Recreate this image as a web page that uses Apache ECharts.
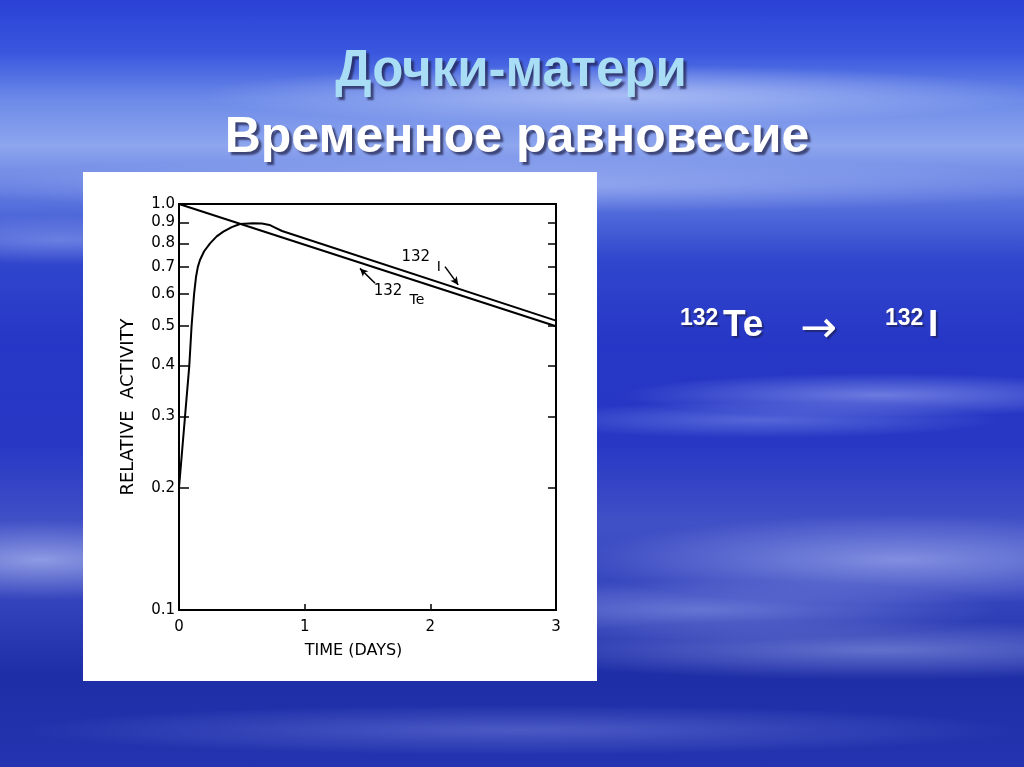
<!DOCTYPE html>
<html>
<head>
<meta charset="utf-8">
<script src="https://cdn.jsdelivr.net/npm/echarts@6/dist/echarts.min.js"></script>
<style>
html,body{margin:0;padding:0;width:1024px;height:767px;overflow:hidden;}
body{
background:
 radial-gradient(ellipse 260px 22px at 880px 395px, rgba(190,205,255,0.45), rgba(190,205,255,0) 100%),
 radial-gradient(ellipse 240px 18px at 760px 420px, rgba(170,190,255,0.35), rgba(170,190,255,0) 100%),
 radial-gradient(ellipse 200px 40px at 40px 560px, rgba(210,220,255,0.55), rgba(210,220,255,0) 100%),
 radial-gradient(ellipse 320px 45px at 900px 560px, rgba(200,210,255,0.5), rgba(200,210,255,0) 100%),
 radial-gradient(ellipse 300px 30px at 700px 610px, rgba(180,195,250,0.4), rgba(180,195,250,0) 100%),
 radial-gradient(ellipse 380px 30px at 880px 650px, rgba(190,200,250,0.4), rgba(190,200,250,0) 100%),
 radial-gradient(ellipse 200px 25px at 60px 240px, rgba(190,205,255,0.35), rgba(190,205,255,0) 100%),
 radial-gradient(ellipse 420px 30px at 620px 95px, rgba(220,230,255,0.55), rgba(220,230,255,0) 100%),
 radial-gradient(ellipse 600px 28px at 520px 185px, rgba(200,215,255,0.45), rgba(200,215,255,0) 100%),
 radial-gradient(ellipse 500px 25px at 520px 730px, rgba(150,165,240,0.35), rgba(150,165,240,0) 100%),
 linear-gradient(180deg,#2a40d6 0%,#3a58de 7%,#6c8ae8 13%,#8ea6ee 19%,#5a74de 26%,#3046cc 34%,#2636c6 45%,#2838c4 58%,#4050c6 68%,#3444bc 78%,#1e2ea6 88%,#2434b0 100%);
}
#chart{width:1024px;height:767px;}
</style>
</head>
<body>
<div id="chart"></div>
<script>
// ---- data ----
const teDays = [0, 3];
const teActivity = [1.0, 0.50];
const iDays = [0, 0.048, 0.082, 0.10, 0.12, 0.135, 0.15, 0.167, 0.20, 0.247, 0.30, 0.353, 0.42, 0.485, 0.59, 0.66, 0.72, 0.76, 0.82, 3];
const iActivity = [0.2, 0.3, 0.4, 0.5, 0.6, 0.66, 0.70, 0.728, 0.765, 0.80, 0.832, 0.855, 0.877, 0.893, 0.897, 0.895, 0.888, 0.876, 0.858, 0.516];
const yTickValues = [0.1, 0.2, 0.3, 0.4, 0.5, 0.6, 0.7, 0.8, 0.9, 1.0];
const xTickValues = [0, 1, 2, 3];
const titleLine1 = 'Дочки-матери';
const titleLine2 = 'Временное равновесие';
const yName = 'RELATIVE  ACTIVITY';
const xName = 'TIME (DAYS)';

const tePairs = teDays.map((d, i) => [d, teActivity[i]]);
const iPairs = iDays.map((d, i) => [d, iActivity[i]]);

const chart = echarts.init(document.getElementById('chart'), null, {renderer: 'canvas'});
const lblFont = '"DejaVu Sans", sans-serif';
const annoLabel = (txt, size) => ({show: true, position: 'inside', formatter: txt, color: '#000', fontSize: size, fontFamily: lblFont});
const shadow = {textShadowColor: 'rgba(30,30,70,0.7)', textShadowOffsetX: 3, textShadowOffsetY: 3, textShadowBlur: 2};
const shadowSm = {textShadowColor: 'rgba(30,30,70,0.6)', textShadowOffsetX: 2, textShadowOffsetY: 2, textShadowBlur: 1};
const bold = sz => 'bold ' + sz + 'px "Liberation Sans", Arial, sans-serif';

const option = {
  backgroundColor: 'transparent',
  animation: false,
  graphic: [
    {type: 'rect', z: -10, shape: {x: 83, y: 172, width: 514, height: 509}, style: {fill: '#ffffff'}},
    {type: 'text', x: 511, y: 46, z: 10, style: Object.assign({text: titleLine1, fill: '#a9dcf5', font: bold(51), align: 'center', verticalAlign: 'top'}, shadow)},
    {type: 'text', x: 517, y: 113, z: 10, style: Object.assign({text: titleLine2, fill: '#ffffff', font: bold(50), align: 'center', verticalAlign: 'top'}, shadow)},
    {type: 'text', left: 680, top: 307, z: 10, style: Object.assign({text: '132', fill: '#fff', font: bold(23)}, shadowSm)},
    {type: 'text', left: 723, top: 307, z: 10, style: Object.assign({text: 'Te', fill: '#fff', font: bold(37)}, shadowSm)},
    {type: 'text', left: 800, top: 309, z: 10, style: Object.assign({text: '→', fill: '#fff', font: '44px "DejaVu Sans", sans-serif'}, shadowSm)},
    {type: 'text', left: 885, top: 307, z: 10, style: Object.assign({text: '132', fill: '#fff', font: bold(23)}, shadowSm)},
    {type: 'text', left: 928, top: 307, z: 10, style: Object.assign({text: 'I', fill: '#fff', font: bold(37)}, shadowSm)}
  ],
  grid: {left: 179, top: 204, width: 377, height: 406, show: true, borderColor: '#000', borderWidth: 2, backgroundColor: 'transparent', containLabel: false},
  xAxis: [{
    type: 'value', min: 0, max: 3, interval: 1, position: 'bottom',
    name: xName, nameLocation: 'middle', nameGap: 33,
    nameTextStyle: {color: '#000', fontSize: 16, fontFamily: lblFont, padding: [0, 28, 0, 0]},
    axisLine: {show: true, lineStyle: {color: '#000', width: 2}},
    axisTick: {show: true, inside: true, length: 6, lineStyle: {color: '#000', width: 1.5}},
    axisLabel: {color: '#000', fontSize: 15, fontFamily: lblFont, margin: 10},
    splitLine: {show: false}
  }],
  yAxis: [{
    type: 'log', logBase: 10, min: 0.1, max: 1.0, position: 'left',
    name: yName, nameLocation: 'middle', nameGap: 42, nameRotate: 90,
    nameTextStyle: {color: '#000', fontSize: 18, fontFamily: lblFont},
    axisLine: {show: true, lineStyle: {color: '#000', width: 2}},
    axisTick: {show: true, inside: true, length: 10, customValues: yTickValues, lineStyle: {color: '#000', width: 1.5}},
    axisLabel: {color: '#000', fontSize: 15, fontFamily: lblFont, margin: 4, customValues: yTickValues, formatter: v => Number(v).toFixed(1)},
    splitLine: {show: false}, minorTick: {show: false}
  }, {
    type: 'log', logBase: 10, min: 0.1, max: 1.0, position: 'right',
    axisLine: {show: true, lineStyle: {color: '#000', width: 2}},
    axisTick: {show: true, inside: true, length: 8, customValues: yTickValues.slice(1, 9), lineStyle: {color: '#000', width: 1.5}},
    axisLabel: {show: false},
    splitLine: {show: false}
  }],
  series: [{
    name: '132Te', type: 'line', data: tePairs, showSymbol: false, symbol: 'none',
    lineStyle: {color: '#000', width: 2}, silent: true,
    markPoint: {
      symbol: 'circle', symbolSize: 0, silent: true,
      data: [
        {coord: [1.663, 0.611], label: annoLabel('132', 15)},
        {coord: [1.894, 0.580], label: annoLabel('Te', 14)}
      ]
    },
    markLine: {
      silent: true, symbol: ['none', 'arrow'], symbolSize: [6, 8],
      lineStyle: {color: '#000', width: 1.5, type: 'solid'}, label: {show: false},
      data: [[{coord: [1.56, 0.638]}, {coord: [1.44, 0.694]}]]
    }
  }, {
    name: '132I', type: 'line', data: iPairs, showSymbol: false, symbol: 'none',
    smooth: false,
    lineStyle: {color: '#000', width: 2, join: 'round'}, silent: true,
    markPoint: {
      symbol: 'circle', symbolSize: 0, silent: true,
      data: [
        {coord: [1.884, 0.738], label: annoLabel('132', 15)},
        {coord: [2.067, 0.698], label: annoLabel('I', 14)}
      ]
    },
    markLine: {
      silent: true, symbol: ['none', 'arrow'], symbolSize: [6, 8],
      lineStyle: {color: '#000', width: 1.5, type: 'solid'}, label: {show: false},
      data: [[{coord: [2.117, 0.701]}, {coord: [2.222, 0.632]}]]
    }
  }]
};
chart.setOption(option);
</script>
</body>
</html>
